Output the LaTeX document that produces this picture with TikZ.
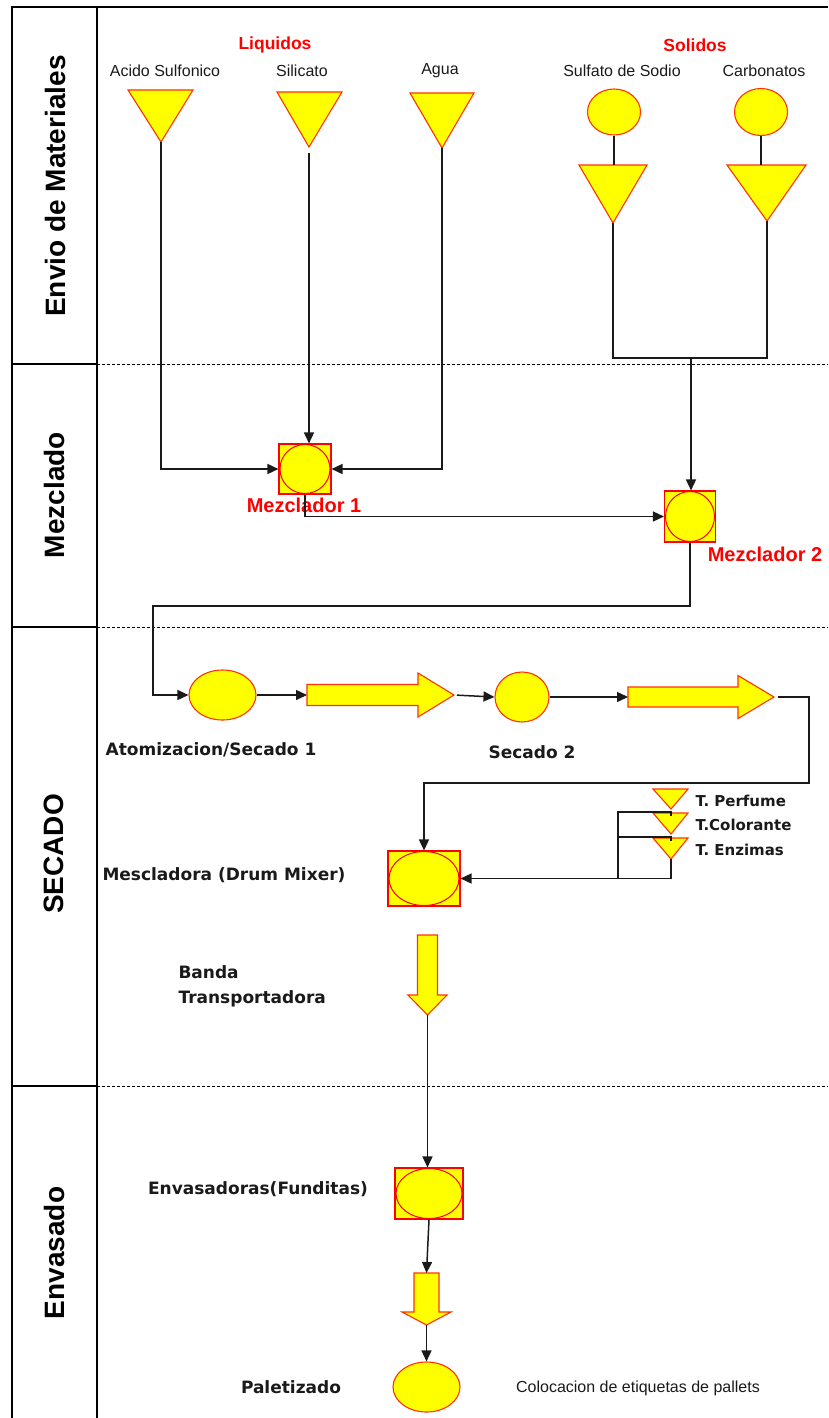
\documentclass[tikz,border=0pt]{standalone}
\usepackage{fontspec}
\setmainfont{Liberation Sans}
\newfontfamily\procfont{DejaVu Sans}
\usetikzlibrary{arrows.meta,shapes.geometric,calc}
\definecolor{yfill}{HTML}{FFFF00}
\definecolor{edgeclr}{HTML}{FF3300}
\definecolor{redtxt}{HTML}{FF0000}
\definecolor{ink}{HTML}{1A1A1A}
\begin{document}
\begin{tikzpicture}[x=1pt,y=-1pt,
  frame/.style={draw=black,line width=2.4pt},
  lanesep/.style={draw=black,line width=1pt,dash pattern=on 3pt off 2pt},
  lanelabel/.style={rotate=90,font=\fontsize{28}{30}\selectfont\bfseries,text=black},
  group/.style={font=\fontsize{17.5}{20}\selectfont\bfseries,text=redtxt},
  matlabel/.style={font=\fontsize{16}{18}\selectfont,text=ink},
  proclabel/.style={font=\procfont\bfseries\fontsize{17}{20}\selectfont,text=ink},
  tanklabel/.style={font=\procfont\bfseries\fontsize{15}{18}\selectfont,text=ink,anchor=west},
  mixlabel/.style={font=\fontsize{20}{22}\selectfont\bfseries,text=redtxt},
  shp/.style={draw=edgeclr,fill=yfill,line width=1.1pt,line join=miter},
  disc/.style={shp,ellipse,inner sep=0pt},
  unit/.style={draw=redtxt,fill=yfill,line width=1.1pt,rectangle,inner sep=0pt},
  unitcore/.style={draw=redtxt,line width=1pt,ellipse,inner sep=0pt},
  conn/.style={draw=ink,line width=1.5pt},
  arr/.style={conn,-{Triangle[length=11pt,width=10pt]}}]

\useasboundingbox (0,0) rectangle (828,1418);

% ---------- swimlane frame ----------
\draw[frame] (12,1418) -- (12,7) -- (828,7);
\draw[frame] (97,7) -- (97,1418);
\foreach \yy in {364,627,1086} {
  \draw[frame] (12,\yy) -- (97,\yy);
  \draw[lanesep] (97,\yy) -- (828,\yy);
}
\node[lanelabel] (lane1) at (55,186) {Envio de Materiales};
\node[lanelabel] (lane2) at (54,495) {Mezclado};
\node[lanelabel] (lane3) at (54,854) {SECADO};
\node[lanelabel] (lane4) at (54,1253) {Envasado};

% ---------- raw materials ----------
\node[group] (liq) at (275,45) {Liquidos};
\node[group] (sol) at (695,45) {Solidos};
\node[matlabel] (lacido) at (165,71) {Acido Sulfonico};
\node[matlabel] (lsili) at (302,71) {Silicato};
\node[matlabel] (lagua) at (440,71) {Agua};
\node[matlabel] (lsulf) at (622,71) {Sulfato de Sodio};
\node[matlabel] (lcarb) at (764,71) {Carbonatos};

\draw[shp] (128,90) -- (193,90) -- (161,142) coordinate (acT) -- cycle;
\draw[shp] (277,92) -- (342,92) -- (309,147) coordinate (siT) -- cycle;
\draw[shp] (410,93) -- (474,93) -- (442,148) coordinate (agT) -- cycle;

\node[disc,minimum width=53pt,minimum height=46pt] (sulC) at (614,112) {};
\node[disc,minimum width=53pt,minimum height=47pt] (carC) at (761,112) {};
\draw[shp] (579,165) coordinate (suL) -- (647,165) -- (613,223) coordinate (suT) -- cycle;
\draw[shp] (727,165) coordinate (caL) -- (806,165) -- (767,221) coordinate (caT) -- cycle;
\draw[conn] (sulC.south) -- (sulC.south |- suL);
\draw[conn] (carC.south) -- (carC.south |- caL);

% ---------- mixing ----------
\node[unit,minimum width=52pt,minimum height=50pt] (m1) at (305,469) {};
\node[unitcore,minimum width=50pt,minimum height=49pt] (m1c) at (m1) {};
\node[mixlabel] (lm1) at (304,505) {Mezclador 1};

\node[unit,minimum width=51pt,minimum height=51pt] (m2) at (690,516.5) {};
\node[unitcore,minimum width=49pt,minimum height=50pt] (m2c) at (m2) {};
\node[mixlabel] (lm2) at (765,554) {Mezclador 2};

\draw[arr] (acT) |- (m1.west);
\draw[arr,shorten <=6pt] (siT) -- (siT |- m1.north);
\draw[arr] (agT) |- (m1.east);

\coordinate (solJ) at (691,358);
\draw[conn] (suT) |- (solJ) -| (caT);
\draw[arr] (solJ) -- (solJ |- m2.north);

\draw[arr] (m1.south) |- (m2.west);

% ---------- drying ----------
\node[disc,minimum width=67pt,minimum height=50pt] (atom) at (222.5,695) {};
\node[disc,minimum width=54pt,minimum height=50pt] (sec2) at (522,697) {};

\coordinate (bendA) at (153,606);
\draw[arr] (m2.south) |- (bendA) |- (atom.west);

\draw[shp] (307,684.5) coordinate (a1L) -- (418,684.5) -- (418,673) -- (454,695) coordinate (a1H)
  -- (418,717) -- (418,705.5) -- (307,705.5) -- cycle;
\draw[shp] (628,687) coordinate (a2L) -- (738,687) -- (738,675.5) -- (774,697) coordinate (a2H)
  -- (738,718.5) -- (738,707) -- (628,707) -- cycle;

\draw[arr] (atom.east) -- (atom.east -| a1L);
\draw[arr,shorten <=3pt] (a1H) -- (sec2.west);
\draw[arr] (sec2.east) -- (sec2.east -| a2L);

\node[proclabel] (latom) at (211,750) {Atomizacion/Secado 1};
\node[proclabel] (lsec2) at (532,752) {Secado 2};

% drum mixer and additive tanks
\node[unit,minimum width=72pt,minimum height=55pt] (mix) at (424,878.5) {};
\node[unitcore,minimum width=70pt,minimum height=54pt] (mixc) at (mix) {};
\node[proclabel] (lmix) at (224,875) {Mescladora (Drum Mixer)};

\coordinate (bendB) at (809,783);
\draw[arr,shorten <=4pt] (a2H) -| (bendB) -| (mix.north);

\draw[shp] (653,789) -- (688,789) -- (671,809) coordinate (tpT) -- cycle;
\draw[shp] (653,813) -- (688,813) -- (671,834) coordinate (tcT) -- cycle;
\draw[shp] (653,838) -- (688,838) -- (671,859) coordinate (teT) -- cycle;
\node[tanklabel] (ltp) at (692,801) {T. Perfume};
\node[tanklabel] (ltc) at (692,825) {T.Colorante};
\node[tanklabel] (lte) at (692,850) {T. Enzimas};

\coordinate (tcTop) at (671,816);
\coordinate (teTop) at (671,841);
\coordinate (tk1) at (618,812);
\coordinate (tk2) at (618,837);
\draw[conn] (tcTop) |- (tk1) -- (tk1 |- mix.east);
\draw[conn] (teTop) |- (tk2);
\draw[arr] (teT) |- (mix.east);

% conveyor belt
\draw[shp] (417.5,935) -- (437.5,935) -- (437.5,995) -- (447,995) -- (427.5,1015) coordinate (bdT)
  -- (408,995) -- (417.5,995) -- cycle;
\node[proclabel,anchor=west,align=left,font=\procfont\bfseries\fontsize{17}{25}\selectfont] (lband) at (175,986.5) {Banda\\Transportadora};

% ---------- packing ----------
\node[unit,minimum width=68pt,minimum height=51pt] (env) at (429,1193.5) {};
\node[unitcore,minimum width=66pt,minimum height=50pt] (envc) at (env) {};
\node[proclabel] (lenv) at (258,1189) {Envasadoras(Funditas)};

\draw[arr] (bdT) -- (bdT |- env.north);

\draw[shp] (414,1273) coordinate (d2top) -- (439,1273) -- (439,1312) -- (451,1312) -- (426.5,1325) coordinate (d2T)
  -- (402,1312) -- (414,1312) -- cycle;
\draw[arr] (env.south) -- (d2top -| d2T);

\node[disc,minimum width=67pt,minimum height=50pt] (pal) at (426.5,1387) {};
\draw[arr] (d2T) -- (pal.north);
\node[proclabel] (lpal) at (291,1387) {Paletizado};
\node[matlabel] (leti) at (638,1388) {Colocacion de etiquetas de pallets};

\end{tikzpicture}
\end{document}
